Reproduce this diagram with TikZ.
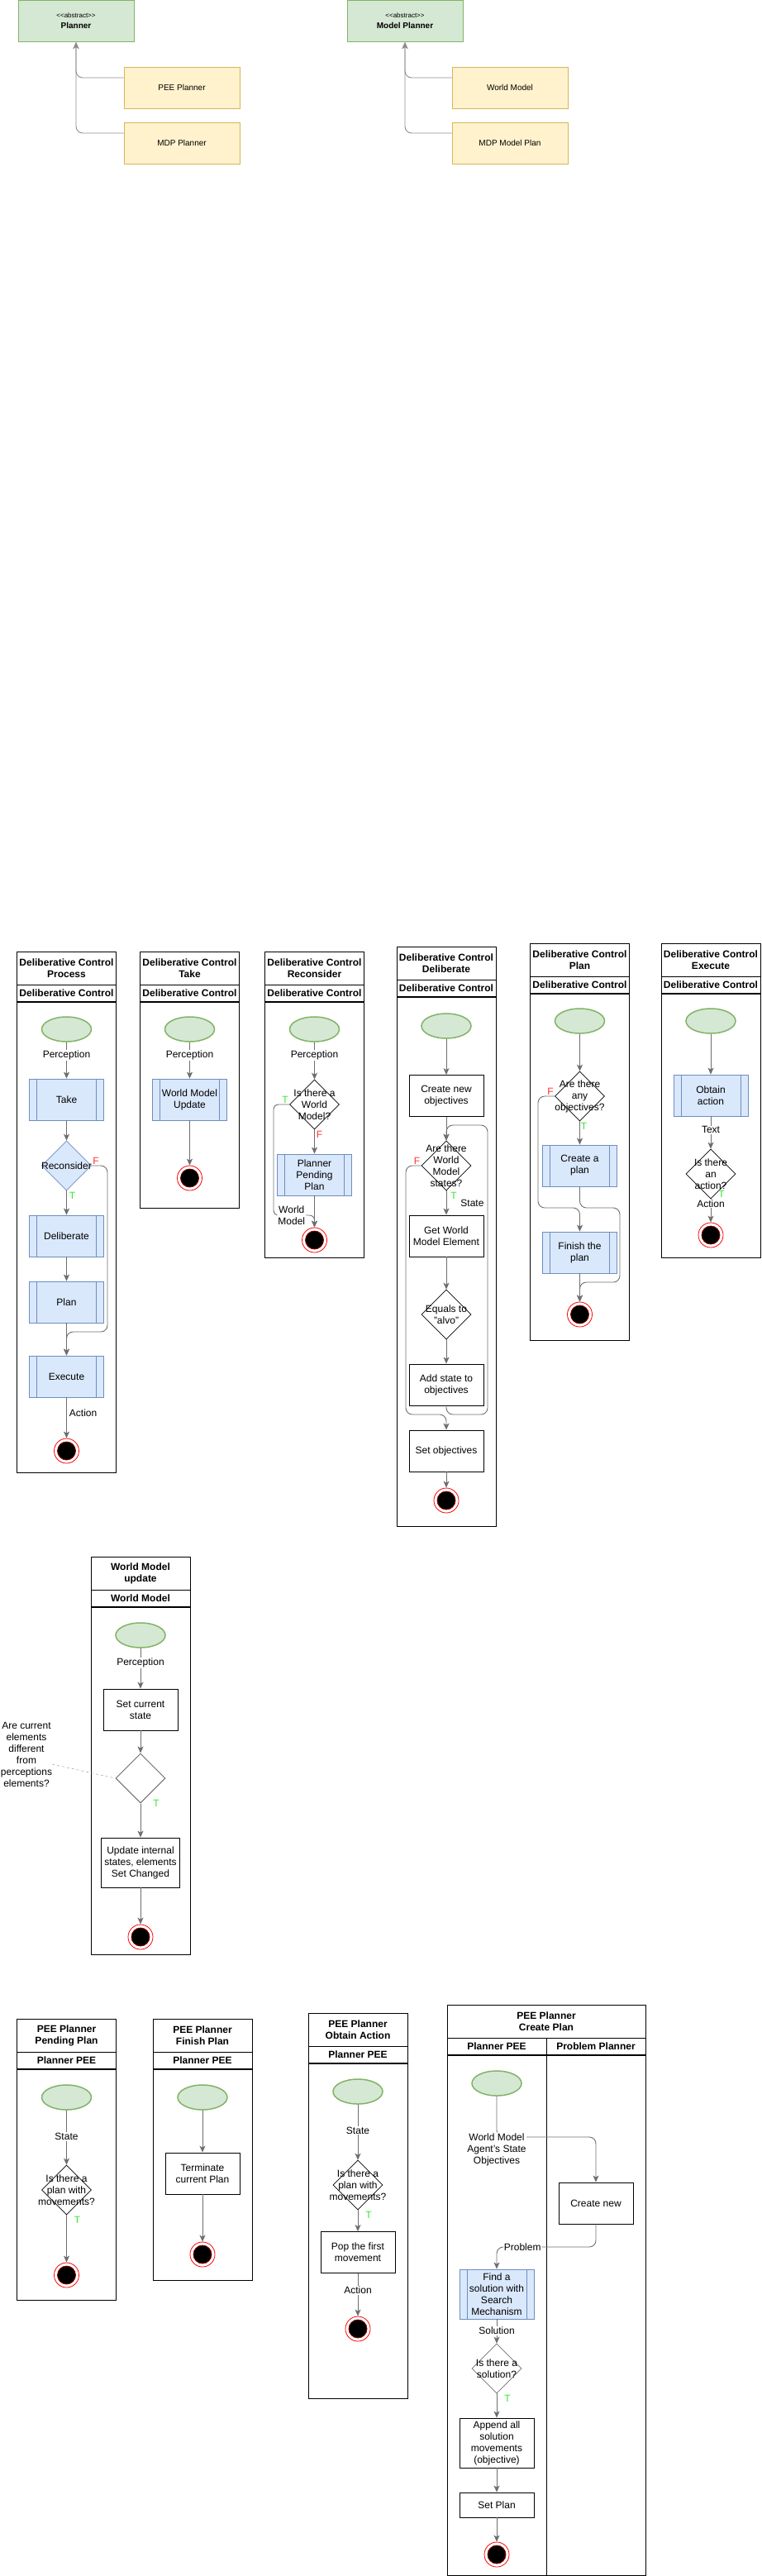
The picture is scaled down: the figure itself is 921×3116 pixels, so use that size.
\documentclass[tikz,border=0pt]{standalone}
\usepackage{fontspec}
\setmainfont{Liberation Sans}
\usepackage{tikz}
\usetikzlibrary{shapes.geometric,arrows.meta}

\newcommand{\bodysize}{\fontsize{12}{14}\selectfont}

\definecolor{gfill}{HTML}{D5E8D4}
\definecolor{gline}{HTML}{82B366}
\definecolor{bfill}{HTML}{DAE8FC}
\definecolor{bline}{HTML}{6C8EBF}
\definecolor{yfill}{HTML}{FFF2CC}
\definecolor{yline}{HTML}{D6B656}
\definecolor{eline}{HTML}{6E6E6E}
\definecolor{tgreen}{HTML}{33E633}
\definecolor{fred}{HTML}{FF3333}

\tikzstyle{E} = [ellipse,
			draw=gline, fill=gfill, line width=1.5pt,
			minimum width=60pt, minimum height=30pt, inner sep=0pt]
\tikzstyle{F} = [rectangle,
			draw=bline, fill=bfill, line width=0.8pt,
			minimum width=90pt, minimum height=50pt,
			align=center, inner sep=0pt,
			path picture={\draw[bline, line width=0.8pt]
				([xshift=9pt]path picture bounding box.north west) --
				([xshift=9pt]path picture bounding box.south west)
				([xshift=-9pt]path picture bounding box.north east) --
				([xshift=-9pt]path picture bounding box.south east);}]
\tikzstyle{R} = [rectangle,
			draw, line width=0.8pt,
			minimum width=90pt, minimum height=50pt,
			align=center, inner sep=0pt]
\tikzstyle{C} = [diamond,
			draw, line width=0.6pt,
			minimum width=60pt, minimum height=60pt, inner sep=0pt]
\tikzstyle{Q} = [align=center, inner sep=0pt]
\tikzstyle{Z} = [circle,
			draw=red, line width=0.8pt, minimum size=30pt, inner sep=0pt,
			path picture={\filldraw[fill=black, draw=red!50!black]
				(path picture bounding box.center) circle (11pt);}]
\tikzstyle{H} = [rectangle,
			draw, line width=1pt, font=\bodysize\bfseries,
			minimum width=120pt, minimum height=40pt,
			align=center, inner sep=0pt]
\tikzstyle{S} = [rectangle,
			draw, line width=1pt, font=\bodysize\bfseries,
			minimum width=120pt, minimum height=20pt, inner sep=0pt]
\tikzstyle{W} = [rectangle,
			draw, line width=1pt, anchor=north,
			minimum width=120pt, inner sep=0pt]
\tikzstyle{K} = [rectangle,
			draw=gline, fill=gfill, line width=1pt,
			font=\fontsize{10}{12}\selectfont,
			minimum width=140pt, minimum height=50pt,
			align=center, inner sep=0pt]
\tikzstyle{U} = [rectangle,
			draw=yline, fill=yfill, line width=1pt,
			font=\fontsize{10}{12}\selectfont,
			minimum width=140pt, minimum height=50pt, inner sep=0pt]
\tikzstyle{L} = [draw=eline, line width=0.9pt, ->]
\tikzstyle{G} = [draw=black!45, line width=0.9pt, ->, rounded corners=8pt]
\tikzstyle{M} = [fill=white, inner sep=1pt, align=center]
\tikzstyle{Y} = [text=tgreen, inner sep=1pt]
\tikzstyle{N} = [text=fred, inner sep=1pt]

\begin{document}
\begin{tikzpicture}[x=1pt, y=-1pt, font=\bodysize,
			>={Stealth[length=8pt, width=7pt, inset=2pt]}]

\useasboundingbox (0,0) rectangle (921,3116);

\node [K]
(plnr) at (92,25.5)
	{{\fontsize{8}{9}\selectfont <{}<abstract>{}>}\\[1pt]\textbf{Planner}};

\node [U]
(pee) at (220,106)
	{PEE Planner};

\node [U, below of =pee, node distance =67pt]
(mdpp)
	{MDP Planner};

\node [K]
(mplnr) at (490,25.5)
	{{\fontsize{8}{9}\selectfont <{}<abstract>{}>}\\[1pt]\textbf{Model Planner}};

\node [U]
(wm) at (617,106)
	{World Model};

\node [U, below of =wm, node distance =67pt]
(mdpm)
	{MDP Model Plan};

\path[G] ([yshift=12pt]mdpp.west) -| (plnr);

\path[G] ([yshift=12pt]pee.west) -| (plnr);

\path[G] ([yshift=12pt]mdpm.west) -| (mplnr);

\path[G] ([yshift=12pt]wm.west) -| (mplnr);


\node [H]
(hd1) at (80.5,1171)
	{Deliberative Control\\Process};

\node [S, below of =hd1, node distance =30pt]
(ln1)
	{Deliberative Control};

\node [W, minimum height=569pt]
(bd1) at (ln1.south)
	{};

\node [E]
(ini1) at (80.5,1245)
	{};

\node [F, below of =ini1, node distance =85pt]
(take1)
	{Take};

\node [C, draw=bline, fill=bfill, below of =take1, node distance =80pt,
		label={[Q]center:{Reconsider}}]
(reco)
	{};

\node [F, below of =reco, node distance =85pt]
(deli)
	{Deliberate};

\node [F, below of =deli, node distance =80pt]
(plan1)
	{Plan};

\node [F, below of =plan1, node distance =90pt]
(exec1)
	{Execute};

\node [Z, below of =exec1, node distance =90pt]
(end1)
	{};

\coordinate (r1) at (130,1611);

\path[L] (ini1) -- node[M, pos=0.35] {Perception} (take1);

\path[L] (take1) -- (reco);

\path[L] (reco) -- node[Y, pos=0, anchor=north west, xshift=2pt] {T} (deli);

\path[L] (deli) -- (plan1);

\path[L] (plan1) -- (exec1);

\path[L, rounded corners=8pt] (reco.east) -| node[N, pos=0, anchor=south west] {F} (r1) -| (exec1.north);

\path[L] (exec1) -- node[M, pos=0.38, anchor=west, xshift=2pt] {Action} (end1);


\node [H]
(hd2) at (229.5,1171)
	{Deliberative Control\\Take};

\node [S, below of =hd2, node distance =30pt]
(ln2)
	{Deliberative Control};

\node [W, minimum height=249pt]
(bd2) at (ln2.south)
	{};

\node [E]
(ini2) at (229.5,1245)
	{};

\node [F, below of =ini2, node distance =85pt]
(wmu)
	{World Model\\Update};

\node [Z, below of =wmu, node distance =95pt]
(end2)
	{};

\path[L] (ini2) -- node[M, pos=0.35] {Perception} (wmu);

\path[L] (wmu) -- (end2);


\node [H]
(hd3) at (380.5,1171)
	{Deliberative Control\\Reconsider};

\node [S, below of =hd3, node distance =30pt]
(ln3)
	{Deliberative Control};

\node [W, minimum height=309pt]
(bd3) at (ln3.south)
	{};

\node [E]
(ini3) at (380.5,1245)
	{};

\node [C, below of =ini3, node distance =91pt,
		label={[Q]center:{Is there a\\World\\Model?}}]
(isw)
	{};

\node [F, below of =isw, node distance =85pt]
(ppp)
	{Planner\\Pending\\Plan};

\node [Z, below of =ppp, node distance =79pt]
(end3)
	{};

\coordinate (r3) at (331,1470);

\path[L] (ini3) -- node[M, pos=0.35] {Perception} (isw);

\path[L] (isw) -- node[N, pos=0, anchor=north west, xshift=1pt] {F} (ppp);

\path[L] (ppp) -- (end3);

\path[L, rounded corners=6pt] (isw.west) -| node[Y, pos=0, anchor=south east] {T} (r3)
	-| node[M, pos=0.22] {World\\Model} (end3.north);


\node [H]
(hd4) at (540,1165)
	{Deliberative Control\\Deliberate};

\node [S, below of =hd4, node distance =30pt]
(ln4)
	{Deliberative Control};

\node [W, minimum height=640pt]
(bd4) at (ln4.south)
	{};

\node [E]
(ini4) at (540,1241)
	{};

\node [R, below of =ini4, node distance =84.5pt]
(cno)
	{Create new\\objectives};

\node [C, below of =cno, node distance =84.5pt,
		label={[Q]center:{Are there\\World\\Model\\states?}}]
(arws)
	{};

\node [R, below of =arws, node distance =85pt]
(gwm)
	{Get World\\Model Element};

\node [C, below of =gwm, node distance =95pt,
		label={[Q]center:{Equals to\\"alvo"}}]
(eqa)
	{};

\node [R, below of =eqa, node distance =85pt]
(ast)
	{Add state to\\objectives};

\node [R, below of =ast, node distance =80pt]
(sob)
	{Set objectives};

\node [Z, below of =sob, node distance =60pt]
(end4)
	{};

\coordinate (r4a) at (491,1711);

\coordinate (r4b) at (590,1711);

\coordinate (r4c) at (590,1361);

\path[L] (ini4) -- (cno);

\path[L] (cno) -- (arws);

\path[L] (arws) -- node[Y, pos=0, anchor=north west, xshift=4pt] {T}
	node[M, pos=0.5, anchor=west, xshift=16pt] {State} (gwm);

\path[L] (gwm) -- (eqa);

\path[L] (eqa) -- (ast);

\path[L, rounded corners=8pt] (ast.south) |- (r4b) -- (r4c) -| (arws.north);

\path[L, rounded corners=8pt] (arws.west) -| node[N, pos=0, anchor=south east] {F} (r4a) -| (sob.north);

\path[L] (sob) -- (end4);


\node [H]
(hd5) at (701.5,1161)
	{Deliberative Control\\Plan};

\node [S, below of =hd5, node distance =30pt]
(ln5)
	{Deliberative Control};

\node [W, minimum height=419pt]
(bd5) at (ln5.south)
	{};

\node [E]
(ini5) at (701.5,1235)
	{};

\node [C, below of =ini5, node distance =91pt,
		label={[Q]center:{Are there\\any\\objectives?}}]
(ato)
	{};

\node [F, below of =ato, node distance =84pt]
(cap)
	{Create a\\plan};

\node [F, below of =cap, node distance =105pt]
(ftp)
	{Finish the\\plan};

\node [Z, below of =ftp, node distance =75pt]
(end5)
	{};

\coordinate (r5a) at (651,1461);

\coordinate (r5b) at (750,1461);

\coordinate (r5c) at (750,1551);

\path[L] (ini5) -- (ato);

\path[L] (ato) -- node[Y, pos=0, anchor=north west] {T} (cap);

\path[L, rounded corners=8pt] (ato.west) -| node[N, pos=0, anchor=south east] {F} (r5a) -| (ftp.north);

\path[L, rounded corners=8pt] (cap.south) |- (r5b) -- (r5c) -| (end5.north);

\path[L] (ftp) -- (end5);


\node [H]
(hd6) at (860,1161)
	{Deliberative Control\\Execute};

\node [S, below of =hd6, node distance =30pt]
(ln6)
	{Deliberative Control};

\node [W, minimum height=319pt]
(bd6) at (ln6.south)
	{};

\node [E]
(ini6) at (860,1235)
	{};

\node [F, below of =ini6, node distance =90pt]
(oba)
	{Obtain\\action};

\node [C, below of =oba, node distance =95pt,
		label={[Q]center:{Is there\\an\\action?}}]
(ita)
	{};

\node [Z, below of =ita, node distance =74pt]
(end6)
	{};

\path[L] (ini6) -- (oba);

\path[L] (oba) -- node[M, pos=0.42] {Text} (ita);

\path[L] (ita) -- node[M, pos=0.2] {Action}
	node[Y, pos=0, anchor=west, xshift=8pt, yshift=6pt] {T} (end6);


\node [H]
(hd7) at (170,1903)
	{World Model\\update};

\node [S, below of =hd7, node distance =30pt]
(ln7)
	{World Model};

\node [W, minimum height=420pt]
(bd7) at (ln7.south)
	{};

\node [E]
(ini7) at (170,1978)
	{};

\node [R, below of =ini7, node distance =90pt]
(scs)
	{Set current\\state};

\node [C, draw=eline, line width=1pt, below of =scs, node distance =83pt]
(dif)
	{};

\node [R, minimum width=95pt, minimum height=60pt, below of =dif, node distance =102pt]
(uis)
	{Update internal\\states, elements\\Set Changed};

\node [Z, below of =uis, node distance =90pt]
(end7)
	{};

\node [Q]
(note) at (32,2122)
	{Are current\\elements\\different\\from\\perceptions\\elements?};

\path[L] (ini7) -- node[M, pos=0.36] {Perception} (scs);

\path[L] (scs) -- (dif);

\path[L] (dif) -- node[Y, pos=0, anchor=west, xshift=14pt] {T} (uis);

\path[L] (uis) -- (end7);

\draw[black!45, dash pattern=on 3pt off 3pt] ([yshift=-12pt]note.east) -- (dif.west);


\node [H]
(hd8) at (80.5,2462)
	{PEE Planner\\Pending Plan};

\node [S, below of =hd8, node distance =30pt]
(ln8)
	{Planner PEE};

\node [W, minimum height=279pt]
(bd8) at (ln8.south)
	{};

\node [E]
(ini8) at (80.5,2537)
	{};

\node [C, below of =ini8, node distance =112pt,
		label={[Q]center:{Is there a\\plan with\\movements?}}]
(ipm)
	{};

\node [Z, below of =ipm, node distance =103pt]
(end8)
	{};

\path[L] (ini8) -- node[M, pos=0.48] {State} (ipm);

\path[L] (ipm) -- node[Y, pos=0, anchor=north west, xshift=8pt] {T} (end8);


\node [H]
(hd9) at (245,2462)
	{PEE Planner\\Finish Plan};

\node [S, below of =hd9, node distance =30pt]
(ln9)
	{Planner PEE};

\node [W, minimum height=255pt]
(bd9) at (ln9.south)
	{};

\node [E]
(ini9) at (245,2537)
	{};

\node [R, below of =ini9, node distance =92pt]
(tcp)
	{Terminate\\current Plan};

\node [Z, below of =tcp, node distance =98pt]
(end9)
	{};

\path[L] (ini9) -- (tcp);

\path[L] (tcp) -- (end9);


\node [H]
(hd10) at (433,2455)
	{PEE Planner\\Obtain Action};

\node [S, below of =hd10, node distance =30pt]
(ln10)
	{Planner PEE};

\node [W, minimum height=405pt]
(bd10) at (ln10.south)
	{};

\node [E]
(ini10) at (433,2530)
	{};

\node [C, below of =ini10, node distance =113pt,
		label={[Q]center:{Is there a\\plan with\\movements?}}]
(ipm2)
	{};

\node [R, below of =ipm2, node distance =81.5pt]
(pfm)
	{Pop the first\\movement};

\node [Z, below of =pfm, node distance =92.5pt]
(end10)
	{};

\path[L] (ini10) -- node[M, pos=0.47] {State} (ipm2);

\path[L] (ipm2) -- node[Y, pos=0, anchor=north west, xshift=8pt] {T} (pfm);

\path[L] (pfm) -- node[M, pos=0.4] {Action} (end10);


\node [H, minimum width=240pt]
(hd11) at (661,2445)
	{PEE Planner\\Create Plan};

\node [S]
(ln11a) at (601,2475)
	{Planner PEE};

\node [S]
(ln11b) at (721,2475)
	{Problem Planner};

\node [W, minimum height=629pt]
(bd11a) at (ln11a.south)
	{};

\node [W, minimum height=629pt]
(bd11b) at (ln11b.south)
	{};

\node [E]
(ini11) at (601,2520)
	{};

\node [R]
(cnew) at (721,2665)
	{Create new};

\node [F, minimum height=60pt, below of =ini11, node distance =255pt]
(fsm)
	{Find a\\solution with\\Search\\Mechanism};

\node [C, draw=eline, below of =fsm, node distance =90pt,
		label={[Q]center:{Is there a\\solution?}}]
(iss)
	{};

\node [R, minimum height=60pt, below of =iss, node distance =90pt]
(asm)
	{Append all\\solution\\movements\\(objective)};

\node [R, minimum height=30pt, below of =asm, node distance =75pt]
(spl)
	{Set Plan};

\node [Z, below of =spl, node distance =60pt]
(end11)
	{};

\coordinate (r11a) at (721,2585);

\coordinate (r11b) at (601,2718);

\path[L, rounded corners=8pt] (ini11) |- node[M, yshift=-15pt] {World Model\\Agent's State\\Objectives} (r11a) -- (cnew);

\path[L, rounded corners=8pt] (cnew) |- node[M, pos=0.87] {Problem} (r11b) -- (fsm);

\path[L] (fsm) -- node[M, pos=0.47] {Solution} (iss);

\path[L] (iss) -- node[Y, pos=0, anchor=north west, xshift=8pt] {T} (asm);

\path[L] (asm) -- (spl);

\path[L] (spl) -- (end11);

\end{tikzpicture}
\end{document}
